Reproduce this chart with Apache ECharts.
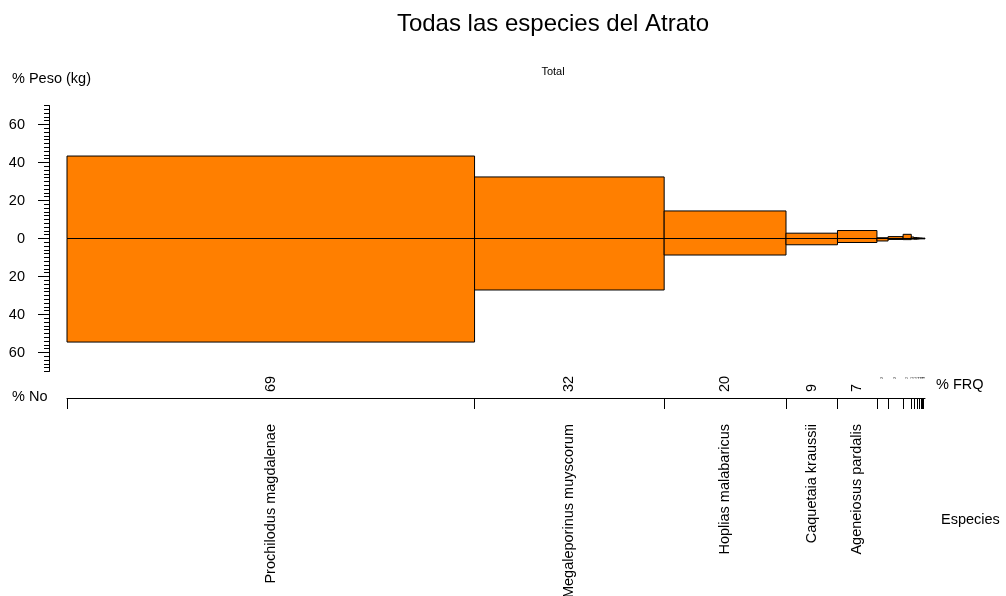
<!DOCTYPE html>
<html>
<head>
<meta charset="utf-8">
<title>Todas las especies del Atrato</title>
<script src="https://cdn.jsdelivr.net/npm/echarts@6/dist/echarts.min.js"></script>
<style>
  html, body { margin: 0; padding: 0; background: #fff; }
  #chart { width: 1006px; height: 596px; }
</style>
</head>
<body>
<div id="chart"></div>
<script>
// Species, ordered by share of the catch
const especies = [
  'Prochilodus magdalenae', 'Megaleporinus muyscorum', 'Hoplias malabaricus',
  'Caquetaia kraussii', 'Ageneiosus pardalis', 'Pimelodus punctatus',
  'Cyphocharax magdalenae', 'Rhamdia quelen', 'Sternopygus aequilabiatus',
  'Andinoacara pulcher', 'Astyanax fasciatus', 'Trachelyopterus fisheri',
  'Hypostomus hondae', 'Brycon meeki', 'Sorubim cuspicaudus'
];
// % of individuals (bar width)
const pctNo = [47.5, 22.1, 14.2, 6.0, 4.6, 1.3, 1.75, 0.95, 0.3, 0.4, 0.25, 0.2, 0.15, 0.15, 0.15];
// % weight in kg (upper half)
const pctPeso = [43.4, 32.4, 14.5, 2.8, 4.2, 0.4, 1.0, 2.2, 0.8, 0.5, 0.4, 0.3, 0.3, 0.2, 0.2];
// lower half of each bar
const pctInferior = [54.5, 27.1, 8.7, 3.3, 2.1, 1.3, 0.5, 0.6, 0.3, 0.4, 0.3, 0.2, 0.2, 0.2, 0.2];
// frequency of occurrence
const frq = [69, 32, 20, 9, 7, 3, 3, 2, 1, 1, 1, 1, 1, 1, 1];
// labelled ticks on the weight axis
const yTicks = [-60, -40, -20, 0, 20, 40, 60];

const FONT = '"Liberation Sans", Arial, sans-serif';
const ORANGE = '#FF7F00';

// cumulative start / end of each bar along the % No axis
const bars = [];
const bounds = [0];
let acc = 0;
especies.forEach((name, i) => {
  const start = acc;
  acc += pctNo[i];
  bounds.push(acc);
  bars.push([start, acc, pctPeso[i], pctInferior[i], frq[i], i]);
});

const chart = echarts.init(document.getElementById('chart'), null, { renderer: 'canvas' });

function renderBar(params, api) {
  const x0 = api.value(0), x1 = api.value(1);
  const up = api.value(2), dn = api.value(3);
  const pTop = api.coord([x0, up]);
  const pMid = api.coord([x1, 0]);
  const pBot = api.coord([x1, -dn]);
  const style = { fill: ORANGE, stroke: '#000', lineWidth: 1 };
  return {
    type: 'group',
    children: [
      { type: 'rect', shape: { x: pTop[0], y: pTop[1], width: pMid[0] - pTop[0], height: pMid[1] - pTop[1] }, style: style },
      { type: 'rect', shape: { x: pTop[0], y: pMid[1], width: pMid[0] - pTop[0], height: pBot[1] - pMid[1] }, style: style }
    ]
  };
}

function renderLabels(params, api) {
  const x0 = api.value(0), x1 = api.value(1);
  const i = api.value(5);
  const left = api.coord([x0, 0]);
  const right = api.coord([x1, 0]);
  const cx = (left[0] + right[0]) / 2;
  const axisY = left[1];
  const wide = right[0] - left[0] > 20;
  const children = [];
  if (wide) {
    children.push({
      type: 'text', x: cx, y: axisY - 6, rotation: Math.PI / 2,
      style: { text: String(api.value(4)), font: '14.5px ' + FONT, fill: '#000', align: 'left', verticalAlign: 'middle' }
    });
    children.push({
      type: 'text', x: cx, y: axisY + 26, rotation: Math.PI / 2,
      style: { text: especies[i], font: '14.5px ' + FONT, fill: '#000', align: 'right', verticalAlign: 'middle' }
    });
  } else {
    children.push({
      type: 'text', x: cx, y: axisY - 20, rotation: Math.PI / 2,
      style: { text: String(api.value(4)), font: '3px ' + FONT, fill: '#000', align: 'center', verticalAlign: 'middle' }
    });
    children.push({
      type: 'text', x: cx, y: axisY + 20, rotation: Math.PI / 2,
      style: { text: especies[i], font: '0.6px ' + FONT, fill: '#000', align: 'center', verticalAlign: 'middle' }
    });
  }
  return { type: 'group', children: children };
}

const textStyle = (size) => ({ font: size + 'px ' + FONT, fill: '#000' });

chart.setOption({
  animation: false,
  backgroundColor: '#fff',
  grid: [
    { left: 67, width: 858, top: 105.5, height: 266 },
    { left: 67, width: 858, top: 397, height: 1 }
  ],
  xAxis: [
    { gridIndex: 0, type: 'value', min: 0, max: 100, show: false },
    {
      gridIndex: 1, type: 'value', min: 0, max: 100, position: 'bottom',
      axisLine: { show: true, onZero: false, lineStyle: { color: '#000', width: 1 } },
      axisTick: { show: true, length: 11, customValues: bounds, lineStyle: { color: '#000', width: 1 } },
      axisLabel: { show: false },
      splitLine: { show: false }
    }
  ],
  yAxis: [
    {
      gridIndex: 0, type: 'value', min: -70, max: 70, interval: 2,
      position: 'left', offset: 18,
      axisLine: { show: true, onZero: false, lineStyle: { color: '#000', width: 1 } },
      axisTick: { show: true, length: 5, lineStyle: { color: '#000', width: 1 } },
      axisLabel: { show: false },
      splitLine: { show: false }
    },
    {
      gridIndex: 0, type: 'value', min: -70, max: 70, interval: 2,
      position: 'left', offset: 18,
      axisLine: { show: false, onZero: false },
      axisTick: { show: true, length: 11, customValues: yTicks, lineStyle: { color: '#000', width: 1 } },
      axisLabel: {
        show: true, customValues: yTicks, margin: 24,
        formatter: (v) => String(Math.abs(v)),
        color: '#000', fontSize: 14.5, fontFamily: FONT
      },
      splitLine: { show: false }
    },
    { gridIndex: 1, type: 'value', min: 0, max: 1, show: false }
  ],
  series: [
    {
      type: 'custom', xAxisIndex: 0, yAxisIndex: 0,
      renderItem: renderBar, data: bars, silent: true, z: 2
    },
    {
      type: 'line', xAxisIndex: 0, yAxisIndex: 0, data: [[0, 0], [100, 0]],
      symbol: 'none', lineStyle: { color: '#000', width: 1 }, silent: true, z: 3
    },
    {
      type: 'custom', xAxisIndex: 1, yAxisIndex: 2,
      renderItem: renderLabels, data: bars, silent: true, z: 3
    }
  ],
  graphic: [
    { type: 'text', x: 553, y: 24, style: Object.assign(textStyle(24), { text: 'Todas las especies del Atrato', align: 'center', verticalAlign: 'middle' }) },
    { type: 'text', x: 553, y: 72, style: Object.assign(textStyle(11), { text: 'Total', align: 'center', verticalAlign: 'middle' }) },
    { type: 'text', x: 12, y: 79, style: Object.assign(textStyle(14.5), { text: '% Peso (kg)', align: 'left', verticalAlign: 'middle' }) },
    { type: 'text', x: 12, y: 397, style: Object.assign(textStyle(14.5), { text: '% No', align: 'left', verticalAlign: 'middle' }) },
    { type: 'text', x: 936, y: 385, style: Object.assign(textStyle(14.5), { text: '% FRQ', align: 'left', verticalAlign: 'middle' }) },
    { type: 'text', x: 941, y: 520, style: Object.assign(textStyle(14.5), { text: 'Especies', align: 'left', verticalAlign: 'middle' }) }
  ]
});
</script>
</body>
</html>
